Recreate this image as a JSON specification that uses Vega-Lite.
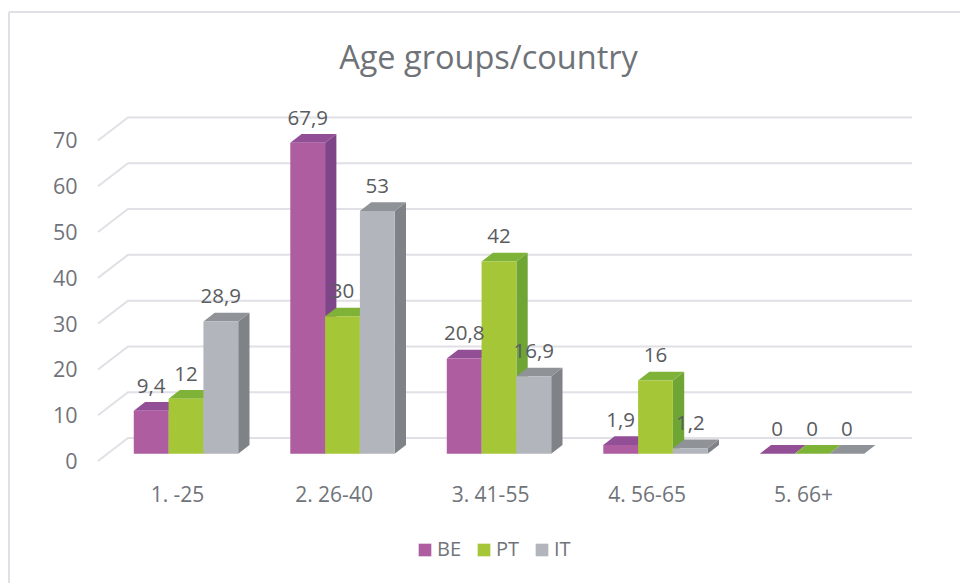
{
"$schema":"https://vega.github.io/schema/vega-lite/v6.json",
"autosize":"none","padding":{"left":9,"top":12,"right":0,"bottom":0},
"width":951,"height":571,"background":"white",
"view":{"stroke":null,"fill":"white"},
"config":{"font":"Open Sans"},
"title":{"text":"Age groups/country","font":"Open Sans","fontSize":32.5,"fontWeight":"normal","color":"#6F7378","anchor":"middle","frame":"group","offset":-64,"dx":4},
"data":{"values":[
{"group":"1. -25","series":"BE","v":9.4},{"group":"1. -25","series":"PT","v":12},{"group":"1. -25","series":"IT","v":28.9},
{"group":"2. 26-40","series":"BE","v":67.9},{"group":"2. 26-40","series":"PT","v":30},{"group":"2. 26-40","series":"IT","v":53},
{"group":"3. 41-55","series":"BE","v":20.8},{"group":"3. 41-55","series":"PT","v":42},{"group":"3. 41-55","series":"IT","v":16.9},
{"group":"4. 56-65","series":"BE","v":1.9},{"group":"4. 56-65","series":"PT","v":16},{"group":"4. 56-65","series":"IT","v":1.2},
{"group":"5. 66+","series":"BE","v":0},{"group":"5. 66+","series":"PT","v":0},{"group":"5. 66+","series":"IT","v":0}
]},
"transform":[
{"calculate":"indexof(['1. -25','2. 26-40','3. 41-55','4. 56-65','5. 66+'],datum.group)","as":"g"},
{"calculate":"indexof(['BE','PT','IT'],datum.series)","as":"s"},
{"calculate":"datum.g+0.0575+(datum.s-1.5)*0.2224","as":"x0"},
{"calculate":"datum.x0+0.2224","as":"x1"},
{"calculate":"datum.v+1.59","as":"top"},
{"calculate":"datum.group+datum.series","as":"key"},
{"calculate":"replace(toString(datum.v),'.',',')","as":"label"}
],
"resolve":{"scale":{"color":"independent"}},
"layer":[
{"mark":{"type":"rule","color":"#E0E0E6","strokeWidth":2},
 "encoding":{"x":{"datum":-1.0735,"type":"quantitative"},"y":{"datum":98.06,"type":"quantitative"},"y2":{"datum":-26.64}}},
{"mark":{"type":"rule","color":"#E0E0E6","strokeWidth":2},
 "encoding":{"x":{"datum":-1.0735,"type":"quantitative"},"x2":{"datum":5.0032},"y":{"datum":98.06,"type":"quantitative"}}},
{"data":{"values":[{"tick":0},{"tick":10},{"tick":20},{"tick":30},{"tick":40},{"tick":50},{"tick":60},{"tick":70}]},
 "transform":[
  {"calculate":"[-0.5048,-0.3131,4.6965]","as":"gx"},
  {"calculate":"[0,5.02,5.02]","as":"gy"},
  {"flatten":["gx","gy"]},
  {"calculate":"datum.tick+datum.gy","as":"gv"}],
 "mark":{"type":"line","color":"#E0E0E6","strokeWidth":2},
 "encoding":{
  "x":{"field":"gx","type":"quantitative","scale":{"domain":[-1.0735,5.0032],"nice":false,"zero":false},
   "axis":{"title":null,"values":[0,1,2,3,4],"grid":false,"ticks":false,"domain":false,"offset":-122,"labelPadding":23,"labelFontSize":21,"labelFont":"Open Sans","labelColor":"#70747A","labelOverlap":false,"labelFlush":false,
    "labelExpr":"['1. -25','2. 26-40','3. 41-55','4. 56-65','5. 66+'][datum.value]"}},
  "y":{"field":"gv","type":"quantitative","scale":{"domain":[-26.64,98.06],"nice":false,"zero":false},
   "axis":{"title":null,"values":[0,10,20,30,40,50,60,70],"grid":false,"ticks":false,"domain":false,"offset":-68,"labelPadding":0,"labelOffset":1.5,"labelFontSize":21.5,"labelFont":"Open Sans","labelColor":"#70747A","labelOverlap":false}},
  "detail":{"field":"tick"}}},
{"transform":[
  {"calculate":"[0,0.0722]","as":"t"},
  {"calculate":"[0,1.9]","as":"d"},
  {"flatten":["t","d"]},
  {"calculate":"datum.x1+datum.t","as":"xp"},
  {"calculate":"datum.top+datum.d","as":"yhi"},
  {"calculate":"1.59+datum.d","as":"ylo"}],
 "mark":{"type":"area","opacity":1},
 "encoding":{
  "x":{"field":"xp","type":"quantitative"},
  "y":{"field":"yhi","type":"quantitative"},
  "y2":{"field":"ylo"},
  "detail":{"field":"key"},
  "color":{"field":"series","type":"nominal","legend":null,"scale":{"domain":["BE","PT","IT"],"range":["#7F4589","#6EA535","#7F8286"]}}}},
{"transform":[
  {"calculate":"[0,0.0722,0.2224,0.2946]","as":"t"},
  {"calculate":"[0,0,0,1.9]","as":"lo"},
  {"calculate":"[0,1.9,1.9,1.9]","as":"hi"},
  {"flatten":["t","lo","hi"]},
  {"calculate":"datum.x0+datum.t","as":"xp"},
  {"calculate":"datum.top+datum.hi","as":"yhi"},
  {"calculate":"datum.top+datum.lo","as":"ylo"}],
 "mark":{"type":"area","opacity":1},
 "encoding":{
  "x":{"field":"xp","type":"quantitative"},
  "y":{"field":"yhi","type":"quantitative"},
  "y2":{"field":"ylo"},
  "detail":{"field":"key"},
  "color":{"field":"series","type":"nominal","legend":null,"scale":{"domain":["BE","PT","IT"],"range":["#934F96","#7FB338","#8F9297"]}}}},
{"transform":[{"calculate":"1.59","as":"base"}],
 "mark":{"type":"rect"},
 "encoding":{
  "x":{"field":"x0","type":"quantitative"},
  "x2":{"field":"x1"},
  "y":{"field":"top","type":"quantitative"},
  "y2":{"field":"base"},
  "color":{"field":"series","type":"nominal","scale":{"domain":["BE","PT","IT"],"range":["#AE5DA1","#A5C737","#B2B5BC"]},
   "legend":{"title":null,"orient":"none","legendX":406,"legendY":528,"direction":"horizontal","columns":3,"symbolType":"square","symbolSize":160,"symbolStrokeWidth":0,"labelFontSize":20,"labelFont":"Open Sans","labelColor":"#70747A","columnPadding":12,"labelOffset":2}}}},
{"transform":[{"calculate":"(datum.x0+datum.x1)/2","as":"xc"}],
 "mark":{"type":"text","dy":-18,"baseline":"alphabetic","align":"center","fontSize":20.5,"font":"Open Sans","color":"#595C60"},
 "encoding":{
  "x":{"field":"xc","type":"quantitative"},
  "y":{"field":"top","type":"quantitative"},
  "text":{"field":"label"}}}
]
}
